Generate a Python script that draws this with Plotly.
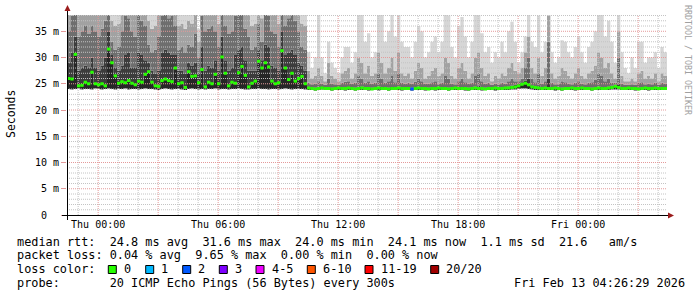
import pandas as pd
import plotly.graph_objects as go

# ---------------- data (10-minute samples, Wed 22:26:29 -> Fri 04:26:29) ----------------
T_START = "2026-02-11 22:26:29"
T_END = "2026-02-13 04:26:29"
STEP = "10min"

rtt_median = [
    26.0, 25.9, 30.6, 24.6, 24.7, 25.3, 25.0, 27.2, 25.0, 24.8, 25.0, 24.6,
    31.6, 29.0, 26.5, 25.1, 25.4, 25.2, 25.6, 25.1, 24.8, 25.5, 25.3, 26.8,
    27.3, 25.3, 24.6, 24.5, 25.6, 25.9, 25.6, 25.4, 28.0, 25.0, 25.2, 24.3,
    27.3, 26.4, 26.5, 25.2, 27.7, 24.4, 25.3, 25.0, 26.8, 25.0, 30.1, 27.0,
    24.6, 25.3, 25.1, 27.1, 28.3, 26.6, 24.4, 25.1, 25.5, 29.3, 28.0, 29.0,
    28.2, 25.5, 25.0, 25.2, 31.3, 28.0, 25.8, 27.0, 25.5, 26.0, 26.4, 25.0,
    24.2, 24.1, 24.0, 24.1, 24.2, 24.1, 24.1, 24.0, 24.1, 24.2, 24.1, 24.1,
    24.2, 24.1, 24.0, 24.1, 24.2, 24.1, 24.1, 24.0, 24.1, 24.2, 24.1, 24.1,
    24.0, 24.1, 24.1, 24.2, 24.1, 24.1, 24.1, 24.0, 24.1, 24.2, 24.1, 24.1,
    24.0, 24.1, 24.1, 24.2, 24.1, 24.1, 24.0, 24.1, 24.2, 24.1, 24.1, 24.1,
    24.0, 24.1, 24.2, 24.1, 24.1, 24.0, 24.1, 24.1, 24.2, 24.1, 24.1, 24.2,
    24.2, 24.3, 24.4, 24.6, 24.9, 25.1, 24.8, 24.4, 24.3, 24.2, 24.1, 24.2,
    24.1, 24.1, 24.2, 24.1, 24.0, 24.1, 24.1, 24.2, 24.1, 24.1, 24.2, 24.1,
    24.1, 24.0, 24.1, 24.2, 24.1, 24.1, 24.2, 24.3, 24.5, 24.3, 24.1, 24.1,
    24.2, 24.1, 24.1, 24.0, 24.1, 24.2, 24.1, 24.1, 24.2, 24.1, 24.1, 24.1,
]

rtt_min = [
    24.0, 23.9, 24.0, 24.1, 23.9, 24.0, 24.0, 23.9, 24.1, 24.0, 23.9, 24.0,
    24.1, 24.0, 23.9, 24.0, 24.0, 24.1, 23.9, 24.0, 24.0, 23.9, 24.0, 24.1,
    24.0, 24.0, 23.9, 23.8, 24.0, 24.1, 24.0, 23.9, 24.0, 24.0, 23.9, 23.8,
    24.0, 24.1, 24.0, 23.9, 24.0, 23.9, 24.0, 24.0, 24.1, 23.9, 24.0, 24.0,
    23.9, 24.0, 24.0, 24.1, 24.0, 23.9, 23.9, 24.0, 24.0, 24.1, 24.0, 24.0,
    23.9, 24.0, 24.0, 23.9, 24.0, 24.1, 24.0, 23.9, 24.0, 24.0, 24.0, 23.9,
    23.8, 23.8, 23.7, 23.8, 23.9, 23.8, 23.8, 23.7, 23.8, 23.8, 23.8, 23.7,
    23.8, 23.8, 23.7, 23.8, 23.8, 23.8, 23.7, 23.8, 23.8, 23.7, 23.8, 23.8,
    23.7, 23.8, 23.8, 23.8, 23.7, 23.8, 23.8, 23.7, 23.8, 23.8, 23.8, 23.7,
    23.8, 23.8, 23.7, 23.8, 23.8, 23.8, 23.7, 23.8, 23.8, 23.8, 23.8, 23.7,
    23.7, 23.8, 23.8, 23.8, 23.7, 23.8, 23.8, 23.8, 23.7, 23.8, 23.8, 23.8,
    23.8, 23.9, 23.9, 24.0, 24.1, 24.1, 24.0, 23.9, 23.8, 23.8, 23.8, 23.8,
    23.8, 23.8, 23.7, 23.8, 23.7, 23.8, 23.8, 23.8, 23.7, 23.8, 23.8, 23.8,
    23.8, 23.7, 23.8, 23.8, 23.8, 23.8, 23.8, 23.9, 23.9, 23.9, 23.8, 23.8,
    23.8, 23.8, 23.7, 23.8, 23.8, 23.8, 23.7, 23.8, 23.8, 23.8, 23.8, 23.8,
]

rtt_p60 = [
    29.0, 31.0, 34.0, 27.5, 28.0, 28.5, 28.0, 30.0, 28.0, 27.5, 28.5, 30.0,
    35.0, 30.5, 28.0, 27.5, 28.5, 30.5, 31.0, 28.0, 28.0, 31.0, 30.5, 29.5,
    29.0, 27.5, 27.0, 27.5, 31.0, 31.5, 31.0, 30.5, 30.5, 27.5, 27.5, 27.0,
    29.0, 28.5, 29.0, 27.0, 32.0, 27.5, 28.5, 28.0, 29.5, 27.5, 34.0, 29.5,
    27.5, 28.0, 30.5, 31.5, 32.0, 29.5, 27.5, 27.5, 27.5, 31.5, 29.5, 32.5,
    32.0, 28.5, 28.0, 27.5, 35.0, 30.5, 31.0, 31.5, 30.5, 29.0, 28.5, 27.5,
    24.4, 24.3, 24.3, 24.3, 24.4, 24.3, 24.4, 24.3, 24.3, 24.4, 24.3, 24.3,
    24.4, 24.3, 24.3, 24.4, 24.5, 24.3, 24.4, 24.3, 24.3, 24.5, 24.4, 24.3,
    24.3, 24.4, 24.3, 24.5, 24.3, 24.3, 24.3, 24.3, 24.3, 24.4, 24.3, 24.3,
    24.3, 24.3, 24.3, 24.4, 24.3, 24.4, 24.3, 24.3, 24.4, 24.3, 24.4, 24.3,
    24.3, 24.3, 24.5, 24.6, 24.3, 24.3, 24.3, 24.3, 24.4, 24.3, 24.3, 24.4,
    24.5, 24.6, 24.8, 25.0, 25.3, 25.6, 26.0, 24.7, 24.5, 24.7, 24.3, 24.4,
    26.0, 24.3, 24.3, 24.4, 24.3, 24.3, 24.3, 24.3, 24.4, 24.4, 24.3, 24.3,
    24.3, 24.3, 24.3, 24.5, 24.4, 24.3, 24.5, 24.6, 24.8, 25.0, 24.3, 24.3,
    24.4, 24.3, 24.3, 24.3, 24.3, 24.4, 24.3, 24.3, 24.4, 24.3, 24.3, 24.3,
]

rtt_p75 = [
    35.0, 38.0, 40.0, 34.0, 35.0, 36.0, 34.5, 36.0, 35.0, 34.0, 35.5, 37.0,
    40.0, 33.0, 31.5, 32.0, 35.0, 38.0, 37.5, 35.0, 34.0, 39.0, 37.0, 36.0,
    32.5, 31.0, 31.5, 34.0, 38.0, 39.0, 37.5, 38.0, 36.0, 31.5, 32.0, 31.0,
    32.5, 32.0, 34.5, 30.0, 38.0, 35.0, 35.5, 36.0, 35.0, 32.0, 40.0, 36.0,
    34.5, 35.0, 38.0, 39.0, 38.5, 35.5, 34.0, 31.5, 32.0, 36.5, 33.0, 39.0,
    38.0, 35.0, 34.5, 32.0, 40.0, 36.0, 37.5, 38.5, 37.0, 35.0, 32.0, 31.5,
    25.2, 24.9, 25.0, 25.5, 25.0, 24.8, 26.0, 25.0, 24.9, 24.8, 25.2, 25.4,
    25.5, 25.0, 25.2, 26.5, 26.0, 25.2, 25.5, 25.0, 25.2, 27.0, 26.0, 25.2,
    25.5, 26.5, 25.3, 27.0, 25.2, 25.0, 25.2, 25.0, 25.4, 26.0, 25.5, 25.0,
    25.0, 25.3, 25.5, 25.0, 25.2, 26.5, 26.0, 25.0, 24.9, 25.5, 26.0, 25.3,
    25.0, 25.2, 26.5, 27.0, 25.5, 25.0, 25.2, 24.8, 25.0, 24.9, 25.2, 25.0,
    25.5, 26.0, 25.5, 25.5, 26.0, 28.0, 30.0, 26.0, 25.3, 27.0, 25.0, 25.5,
    33.0, 25.2, 24.9, 25.0, 25.5, 25.3, 25.0, 24.9, 25.2, 25.5, 25.0, 24.9,
    25.2, 25.3, 25.8, 27.0, 26.5, 25.5, 26.0, 25.2, 25.2, 30.0, 25.0, 24.8,
    24.8, 24.9, 24.8, 25.2, 25.3, 24.9, 25.0, 24.9, 25.2, 24.8, 25.2, 25.0,
]

rtt_p90 = [
    42.0, 46.0, 48.0, 40.0, 41.0, 43.0, 40.0, 42.0, 41.0, 40.0, 42.0, 45.0,
    48.0, 37.0, 36.0, 36.5, 41.0, 46.0, 45.0, 41.0, 40.0, 47.0, 45.0, 42.0,
    37.0, 35.5, 36.0, 40.0, 46.0, 47.0, 45.0, 46.0, 42.0, 36.0, 36.5, 35.5,
    37.0, 36.5, 40.0, 33.0, 46.0, 41.0, 42.0, 43.0, 41.0, 36.5, 48.0, 42.0,
    40.0, 41.0, 46.0, 47.0, 46.0, 42.0, 40.0, 36.0, 36.5, 43.0, 37.5, 47.0,
    46.0, 41.0, 40.0, 36.5, 48.0, 42.0, 45.0, 46.0, 45.0, 41.0, 36.5, 36.0,
    27.5, 26.0, 26.5, 28.0, 26.5, 25.5, 29.0, 26.5, 26.0, 25.5, 27.0, 27.5,
    28.0, 26.0, 27.0, 30.0, 29.0, 27.0, 28.5, 26.5, 27.0, 31.0, 29.0, 27.0,
    28.0, 30.0, 27.5, 31.0, 27.0, 26.5, 27.0, 26.0, 27.5, 29.0, 28.0, 26.0,
    26.5, 27.5, 28.0, 26.5, 27.0, 30.0, 29.0, 26.5, 26.0, 28.0, 29.0, 27.5,
    26.0, 27.0, 30.0, 31.0, 28.0, 26.5, 27.0, 25.5, 26.5, 26.0, 27.0, 26.5,
    28.0, 29.0, 27.5, 27.0, 28.0, 31.0, 34.0, 28.0, 27.0, 30.0, 26.5, 28.0,
    38.0, 27.0, 26.0, 26.5, 28.0, 27.5, 26.5, 26.0, 27.0, 28.0, 26.5, 26.0,
    27.0, 27.5, 28.5, 31.0, 30.0, 28.0, 29.0, 27.0, 26.0, 35.0, 26.5, 25.5,
    25.5, 26.0, 25.5, 27.0, 27.5, 26.0, 26.5, 26.0, 27.0, 25.5, 27.0, 26.5,
]

rtt_max = [
    48.0, 50.0, 52.0, 46.0, 47.0, 49.0, 45.0, 51.0, 48.0, 47.0, 50.0, 48.0,
    55.0, 44.0, 42.0, 43.0, 48.0, 50.0, 47.0, 52.0, 46.0, 50.0, 48.0, 48.0,
    43.0, 42.0, 43.0, 47.0, 49.0, 51.0, 48.0, 50.0, 46.0, 42.0, 43.0, 44.0,
    43.0, 44.0, 42.0, 35.5, 49.0, 49.0, 47.0, 52.0, 46.0, 43.0, 53.0, 48.0,
    46.0, 49.0, 51.0, 50.0, 50.0, 47.0, 46.0, 43.0, 42.0, 50.0, 43.0, 50.0,
    48.0, 50.0, 43.0, 42.0, 52.0, 52.0, 48.0, 49.0, 48.0, 48.0, 43.0, 42.0,
    31.0, 28.0, 30.0, 40.0, 30.0, 27.0, 33.0, 29.0, 28.0, 27.0, 30.0, 32.0,
    32.0, 29.0, 31.0, 39.0, 39.0, 33.0, 34.6, 30.0, 31.0, 40.0, 40.0, 33.0,
    35.0, 40.0, 34.0, 40.0, 33.0, 32.0, 32.0, 30.0, 33.0, 36.0, 35.0, 30.0,
    31.0, 33.0, 34.0, 31.0, 33.0, 40.0, 38.0, 32.0, 30.0, 36.0, 37.7, 34.0,
    30.0, 33.0, 40.0, 40.0, 34.6, 31.0, 32.0, 29.0, 31.0, 30.0, 33.0, 31.0,
    35.0, 36.8, 33.0, 29.0, 31.0, 34.0, 40.0, 33.0, 32.0, 38.0, 31.0, 33.0,
    40.0, 31.0, 29.0, 30.0, 33.3, 33.0, 31.0, 30.0, 32.0, 34.0, 31.0, 29.0,
    32.0, 33.0, 35.0, 40.0, 40.0, 34.0, 37.0, 33.0, 29.0, 40.0, 31.0, 28.0,
    27.0, 30.0, 28.0, 33.0, 33.0, 29.0, 30.0, 30.0, 31.0, 28.0, 32.0, 31.0,
]

# packet loss (pings lost out of 20) at the few samples where it happened
loss_sample = [103]
loss_count = [2]

# loss colour legend
loss_labels = ["0", "1", "2", "3", "4-5", "6-10", "11-19", "20/20"]
loss_upper = [0, 1, 2, 3, 5, 10, 19, 20]
loss_palette = ["#26ff00", "#00b8ff", "#0059ff", "#7e00ff", "#ee00ff",
                "#ff5500", "#ff0000", "#a10000"]

x_tick_times = ["2026-02-12 00:00", "2026-02-12 06:00", "2026-02-12 12:00",
                "2026-02-12 18:00", "2026-02-13 00:00"]
x_tick_labels = ["Thu 00:00", "Thu 06:00", "Thu 12:00", "Thu 18:00", "Fri 00:00"]
y_tick_vals = [0, 5, 10, 15, 20, 25, 30, 35]
y_tick_labels = ["0\u00a0\u00a0", "5 m", "10 m", "15 m", "20 m", "25 m", "30 m", "35 m"]
Y_TOP = 38.1

legend_lines = [
    "median rtt:  24.8 ms avg  31.6 ms max  24.0 ms min  24.1 ms now  1.1 ms sd  21.6   am/s",
    "packet loss: 0.04 % avg  9.65 % max  0.00 % min  0.00 % now",
    "loss color:",
    "probe:       20 ICMP Echo Pings (56 Bytes) every 300s",
]
stamp_text = "Fri Feb 13 04:26:29 2026"

# ---------------- layout helpers ----------------
FONT = "DejaVu Sans Mono"
W, H = 697, 297
PL, PR, PT, PB = 67, 30, 15, 82


def px(x):
    return (x - PL) / (W - PL - PR)


def py(y):
    return (H - PB - y) / (H - PT - PB)


def nb(s):
    return s.replace(" ", "\u00a0")


n = len(rtt_median)
edges = pd.date_range(T_START, periods=n + 1, freq=STEP)


def step(vals):
    return list(vals) + [vals[-1]]


fig = go.Figure()

# smoke: stacked bands between sorted ping quantiles
bounds = [rtt_min, rtt_median, rtt_p60, rtt_p75, rtt_p90, rtt_max]
fills = [None, "#262626", "#3c3c3c", "#6e6e6e", "#a2a2a2", "#d6d6d6"]
for vals, fc in zip(bounds, fills):
    fig.add_trace(go.Scatter(
        x=edges, y=step(vals), mode="lines",
        line=dict(width=0, shape="hv"),
        fill="tonexty" if fc else None, fillcolor=fc,
        hoverinfo="skip", showlegend=False))

# dotted grid drawn over the smoke (as rrdtool does)
minor_c, major_c = "#c4c4c4", "#e49a9a"
grid = {minor_c: ([], []), major_c: ([], [])}
for t in pd.date_range("2026-02-11 23:00", "2026-02-13 04:00", freq="h"):
    gx, gy = grid[major_c if t.hour % 3 == 0 else minor_c]
    gx += [t, t, None]
    gy += [0, Y_TOP, None]
for v in range(1, 39):
    gx, gy = grid[major_c if v % 5 == 0 else minor_c]
    gx += [pd.Timestamp(T_START), pd.Timestamp(T_END), None]
    gy += [v, v, None]
for col, (gx, gy) in grid.items():
    fig.add_trace(go.Scatter(x=gx, y=gy, mode="lines",
                             line=dict(color=col, width=1, dash="1px,1px"),
                             hoverinfo="skip", showlegend=False))

# median dashes, one trace per loss colour
loss_by_sample = dict(zip(loss_sample, loss_count))
seg = {}
for i in range(n):
    c = loss_by_sample.get(i, 0)
    idx = next(j for j, u in enumerate(loss_upper) if c <= u)
    sx, sy = seg.setdefault(loss_palette[idx], ([], []))
    sx += [edges[i], edges[i + 1], None]
    sy += [rtt_median[i], rtt_median[i], None]
for col, (sx, sy) in seg.items():
    fig.add_trace(go.Scatter(x=sx, y=sy, mode="lines", line=dict(color=col, width=3),
                             hoverinfo="skip", showlegend=False))

shapes = []
# axes lines
shapes.append(dict(type="line", xref="paper", yref="paper", x0=px(62), x1=px(668),
                   y0=py(215.5), y1=py(215.5), line=dict(color="black", width=1), layer="above"))
shapes.append(dict(type="line", xref="paper", yref="paper", x0=px(67.5), x1=px(67.5),
                   y0=py(220), y1=py(10), line=dict(color="black", width=1), layer="above"))
# arrows
arrow_c = "#9b1c1c"
shapes.append(dict(type="path", xref="paper", yref="paper",
                   path=f"M {px(668)},{py(212.5)} L {px(674)},{py(215.5)} L {px(668)},{py(218.5)} Z",
                   fillcolor=arrow_c, line=dict(width=0), layer="above"))
shapes.append(dict(type="path", xref="paper", yref="paper",
                   path=f"M {px(64.5)},{py(11)} L {px(67.5)},{py(5)} L {px(70.5)},{py(11)} Z",
                   fillcolor=arrow_c, line=dict(width=0), layer="above"))

annotations = []
row_y = [241.7, 255.3, 269.3, 282.7]
for txt, yy in zip(legend_lines, row_y):
    annotations.append(dict(text=nb(txt), xref="paper", yref="paper", x=px(15.5), y=py(yy),
                            xanchor="left", yanchor="middle", showarrow=False, borderpad=0,
                            font=dict(family=FONT, size=11.85, color="black")))
annotations.append(dict(text=nb(stamp_text), xref="paper", yref="paper", x=px(512.5), y=py(row_y[3]),
                        xanchor="left", yanchor="middle", showarrow=False, borderpad=0,
                        font=dict(family=FONT, size=11.85, color="black")))

box_x = [108.3, 145.7, 182.7, 219.3, 256.0, 307.3, 365.0, 430.7]
for bx, lab, col in zip(box_x, loss_labels, loss_palette):
    shapes.append(dict(type="rect", xref="paper", yref="paper",
                       x0=px(bx), x1=px(bx + 8), y0=py(265.5), y1=py(273.5),
                       fillcolor=col, line=dict(color="black", width=1), layer="above"))
    annotations.append(dict(text=lab, xref="paper", yref="paper", x=px(bx + 14.5), y=py(row_y[2]),
                            xanchor="left", yanchor="middle", showarrow=False, borderpad=0,
                            font=dict(family=FONT, size=11.85, color="black")))

annotations.append(dict(text="Seconds", xref="paper", yref="paper", x=px(11), y=py(114),
                        xanchor="center", yanchor="middle", textangle=-90, showarrow=False,
                        font=dict(family=FONT, size=11.5, color="black")))
annotations.append(dict(text="RRDTOOL / TOBI OETIKER", xref="paper", yref="paper", x=px(688), y=py(60),
                        xanchor="center", yanchor="middle", textangle=90, showarrow=False,
                        font=dict(family=FONT, size=8.3, color="#a0a0a0")))

fig.update_layout(
    width=W, height=H, margin=dict(l=PL, r=PR, t=PT, b=PB, pad=0),
    paper_bgcolor="white", plot_bgcolor="white",
    showlegend=False,
    shapes=shapes, annotations=annotations,
    xaxis=dict(type="date", range=[T_START, T_END], showgrid=False, zeroline=False,
               showline=False, tickvals=x_tick_times, ticktext=x_tick_labels, ticks="",
               ticklabelstandoff=2,
               tickfont=dict(family=FONT, size=10, color="black"), fixedrange=True),
    yaxis=dict(range=[0, Y_TOP], showgrid=False, zeroline=False, showline=False,
               tickvals=y_tick_vals, ticktext=y_tick_labels, ticks="outside", ticklen=5,
               tickcolor=major_c, tickfont=dict(family=FONT, size=10, color="black"),
               fixedrange=True),
)

fig.write_html("out.html")
